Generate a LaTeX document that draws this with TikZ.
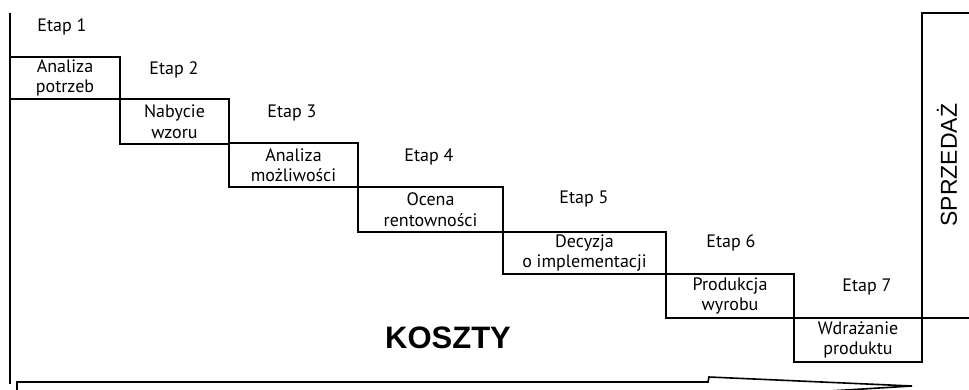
\documentclass[tikz,border=0pt]{standalone}
\usepackage{fontspec}
\setmainfont{PT Sans}
\newfontfamily\headfont{Liberation Sans}
\begin{document}
\begin{tikzpicture}[x=1pt,y=-1pt,
  frame/.style={line width=2pt, black},
  stepbox/.style={draw, line width=2pt, rectangle, inner sep=0pt, outer sep=0pt,
    align=center, font=\fontsize{18}{20.5}\selectfont, anchor=north west},
  etap/.style={font=\fontsize{18}{20}\selectfont, inner sep=0pt},
  bigword/.style={font=\headfont\bfseries\fontsize{31}{36}\selectfont, inner sep=0pt},
  sidetext/.style={font=\headfont\fontsize{23}{27}\selectfont, inner sep=0pt, rotate=90}]
\useasboundingbox (0,0) rectangle (969,389);

% staircase of stages
\node[stepbox, minimum width=110pt, minimum height=42pt] (b1) at (10,57)  {Analiza\\potrzeb};
\node[stepbox, minimum width=109pt, minimum height=45pt] (b2) at (120,99) {Nabycie\\wzoru};
\node[stepbox, minimum width=129pt, minimum height=44pt] (b3) at (229,143) {Analiza\\możliwości};
\node[stepbox, minimum width=145pt, minimum height=45pt] (b4) at (358,187) {Ocena\\rentowności};
\node[stepbox, minimum width=163pt, minimum height=42pt] (b5) at (503,232) {Decyzja\\o implementacji};
\node[stepbox, minimum width=128pt, minimum height=44pt] (b6) at (666,274) {Produkcja\\wyrobu};
\node[stepbox, minimum width=128pt, minimum height=44pt] (b7) at (794,318) {Wdrażanie\\produktu};

% stage labels
\node[etap] (e1) at (62,27)  {Etap 1};
\node[etap] (e2) at (174,70) {Etap 2};
\node[etap] (e3) at (292,113) {Etap 3};
\node[etap] (e4) at (429,157) {Etap 4};
\node[etap] (e5) at (584,199) {Etap 5};
\node[etap] (e6) at (731,243) {Etap 6};
\node[etap] (e7) at (867,287) {Etap 7};

% cost axis on the left
\coordinate (axtop) at (10,13);
\coordinate (axbot) at (10,384);
\draw[frame] (axtop) -- (axbot);

% sales frame on the right
\coordinate (stop) at (922,13);
\coordinate (sright) at (969,13);
\coordinate (sbase) at (969,318);
\draw[frame] (sright) -- (stop) -- (b7.north east);
\draw[frame] (b6.south east) -- (sbase);

\node[bigword] (koszty) at (448,338) {KOSZTY};
\node[sidetext] (sprz) at (947,165) {SPRZEDAŻ};

% time arrow along the bottom
\coordinate (a0) at (17,395);
\coordinate (a1) at (17,382);
\coordinate (a2) at (708,382);
\coordinate (a3) at (709,377);
\coordinate (tip) at (912,386);
\coordinate (a5) at (780,394);
\draw[line width=1.6pt, line join=miter] (a0) -- (a1) -- (a2) -- (a3) -- (tip) -- (a5);
\end{tikzpicture}
\end{document}
